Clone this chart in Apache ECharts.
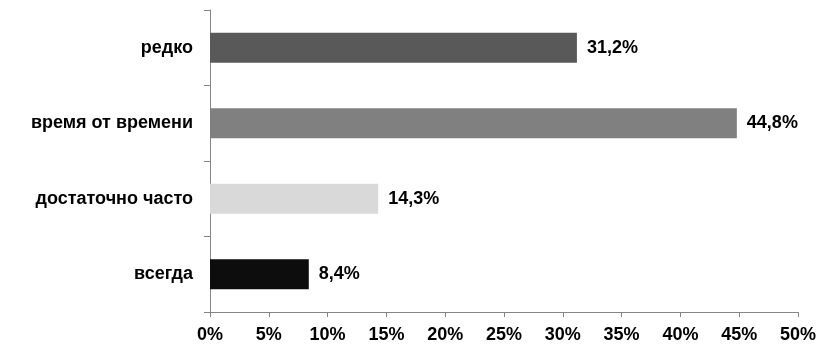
<!DOCTYPE html>
<html>
<head>
<meta charset="utf-8">
<script src="https://cdn.jsdelivr.net/npm/echarts@6/dist/echarts.min.js"></script>
<style>html,body{margin:0;padding:0;background:#fff;}#c{width:827px;height:344px;}</style>
</head>
<body>
<div id="c"></div>
<script>
const categories = ['всегда', 'достаточно часто', 'время от времени', 'редко'];
const values = [8.4, 14.3, 44.8, 31.2];
const barColors = ['#0d0d0d', '#d9d9d9', '#808080', '#595959'];
const xTicks = [0, 5, 10, 15, 20, 25, 30, 35, 40, 45, 50];

const font = '"Liberation Sans", Arial, sans-serif';
const chart = echarts.init(document.getElementById('c'), null, {renderer: 'canvas'});
chart.setOption({
  animation: false,
  backgroundColor: '#fff',
  grid: {left: 210, right: 29, top: 10, bottom: 31, containLabel: false},
  xAxis: {
    type: 'value', min: xTicks[0], max: xTicks[xTicks.length - 1], interval: 5,
    axisLine: {show: true, lineStyle: {color: '#868686', width: 1}},
    axisTick: {show: true, length: 5, lineStyle: {color: '#868686'}},
    splitLine: {show: false},
    axisLabel: {margin: 14, color: '#000', fontWeight: 'bold', fontSize: 18, fontFamily: font,
      formatter: v => v + '%'}
  },
  yAxis: {
    type: 'category', data: categories,
    axisLine: {show: true, lineStyle: {color: '#868686', width: 1}},
    axisTick: {show: true, length: 6, lineStyle: {color: '#868686'}},
    axisLabel: {margin: 17, color: '#000', fontWeight: 'bold', fontSize: 18, fontFamily: font}
  },
  series: [{
    type: 'bar',
    data: values.map((v, i) => ({value: v, itemStyle: {color: barColors[i]}})),
    barCategoryGap: '60%',
    label: {show: true, position: 'right', distance: 10, color: '#000', fontWeight: 'bold', fontSize: 18, fontFamily: font,
      formatter: p => p.value.toFixed(1).replace('.', ',') + '%'}
  }]
});
</script>
</body>
</html>
